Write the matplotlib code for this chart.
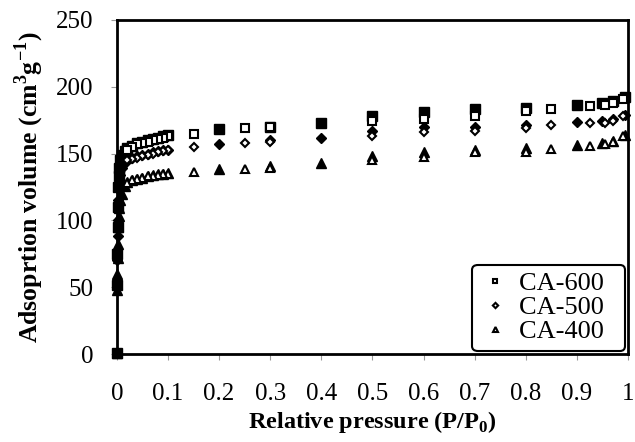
import numpy as np
import matplotlib
matplotlib.use("Agg")
import matplotlib.pyplot as plt
from matplotlib.legend_handler import HandlerLine2D

plt.rcParams['font.family'] = ['Liberation Serif', 'DejaVu Serif']
plt.rcParams['mathtext.fontset'] = 'custom'
plt.rcParams['mathtext.rm'] = 'Liberation Serif'
plt.rcParams['mathtext.bf'] = 'Liberation Serif:bold'

# adsorption branch (filled markers)
p_ads = [0, 0.0005, 0.001, 0.0015, 0.002, 0.003, 0.004, 0.005, 0.007, 0.01, 0.015,
         0.02, 0.03, 0.04, 0.05, 0.06, 0.07, 0.08, 0.09, 0.1,
         0.2, 0.3, 0.4, 0.5, 0.6, 0.7, 0.8, 0.9, 0.95, 0.97, 0.995]
ads_600 = [1, 52, 75, 95, 110, 125, 133, 139, 145, 149, 152,
           154, 156, 158, 159, 160, 161, 162, 163, 164,
           168, 170, 173, 178, 181, 183, 184, 186, 188, 189, 192]
ads_500 = [1, 50, 70, 88, 100, 115, 123, 128, 134, 139, 143,
           145, 147, 148, 149, 150, 151, 152, 152.5, 153,
           157, 160, 162, 167, 170, 170, 171.5, 173.5, 174.5, 175.5, 179]
ads_400 = [1, 48, 60, 72, 82, 95, 103, 109, 115, 120, 126,
           128.5, 130, 131, 132, 133, 134, 134.5, 135, 135.5,
           138.5, 141, 143, 148.5, 151.5, 152.5, 154, 156.5, 158, 159.5, 164]

# desorption branch (open markers)
p_des = [0.99, 0.97, 0.955, 0.925, 0.85, 0.8, 0.7, 0.6, 0.5, 0.3, 0.25, 0.15,
         0.1, 0.09, 0.08, 0.07, 0.06, 0.05, 0.04, 0.03, 0.02]
des_600 = [191, 188, 186, 185.5, 183, 181.5, 178, 176, 174.5, 170, 169, 165,
           163, 162, 161, 160, 159, 158, 157, 155, 153]
des_500 = [178, 174, 173, 172.5, 171, 169, 167, 166, 163, 159, 158, 155,
           153, 152, 151, 150, 149, 148, 147, 146, 145]
des_400 = [163, 159, 157.5, 156, 153.5, 151.5, 151, 147.5, 145, 139.5, 138.5, 136,
           135, 134.5, 134, 133.5, 133, 132, 131, 130, 128]

labels = ['CA-600', 'CA-500', 'CA-400']
markers = ['s', 'D', '^']
sizes = [7, 5.5, 7]


class RightMarker(HandlerLine2D):
    # put the legend marker near the right end of the handle box
    def get_xdata(self, legend, xdescent, ydescent, width, height, fontsize):
        xd, xm = super().get_xdata(legend, xdescent, ydescent, width, height, fontsize)
        return xd, [-xdescent + 0.85 * width]


fig = plt.figure(figsize=(6.35, 4.42), dpi=100)
ax = fig.add_axes([0.184, 0.199, 0.805, 0.756])

handles = []
for ads, des, lab, m, ms in zip([ads_600, ads_500, ads_400], [des_600, des_500, des_400],
                                labels, markers, sizes):
    ax.plot(p_ads, ads, linestyle='none', marker=m, ms=ms, mfc='black', mec='black',
            clip_on=False, zorder=3)
    h, = ax.plot(p_des, des, linestyle='none', marker=m, ms=ms - 1, mfc='white', mec='black',
                 mew=1.5, label=lab + '  ', clip_on=False, zorder=4)
    handles.append(h)

ax.set_xlim(0, 1)
ax.set_ylim(0, 250)
ax.set_xticks(np.arange(0, 1.01, 0.1))
ax.set_xticklabels(['0', '0.1', '0.2', '0.3', '0.4', '0.5', '0.6', '0.7', '0.8', '0.9', '1'])
ax.set_yticks(np.arange(0, 251, 50))
ax.tick_params(axis='both', labelsize=18, direction='out', length=4, color='#999999')
ax.tick_params(axis='x', pad=17)
ax.tick_params(axis='y', pad=13)
for s in ax.spines.values():
    s.set_linewidth(2)
    s.set_color('black')

ax.set_xlabel(r'Relative pressure (P/P$_{\mathbf{0}}$)', fontsize=17.5, fontweight='bold', labelpad=3)
ax.set_ylabel(r'Adsoprtion volume (cm$^{\mathbf{3}}$g$^{\mathbf{-1}}$)', fontsize=18.5,
              fontweight='bold', labelpad=7)

leg = ax.legend(handles=handles, loc='lower right', fontsize=19, markerscale=0.6,
                handlelength=1.15, handletextpad=0.35, borderaxespad=0.12, labelspacing=0.02,
                fancybox=True, framealpha=1, borderpad=0.28,
                handler_map={h: RightMarker() for h in handles})
leg.get_frame().set_edgecolor('black')
leg.get_frame().set_linewidth(1.5)

fig.savefig('out.png', dpi=100)
